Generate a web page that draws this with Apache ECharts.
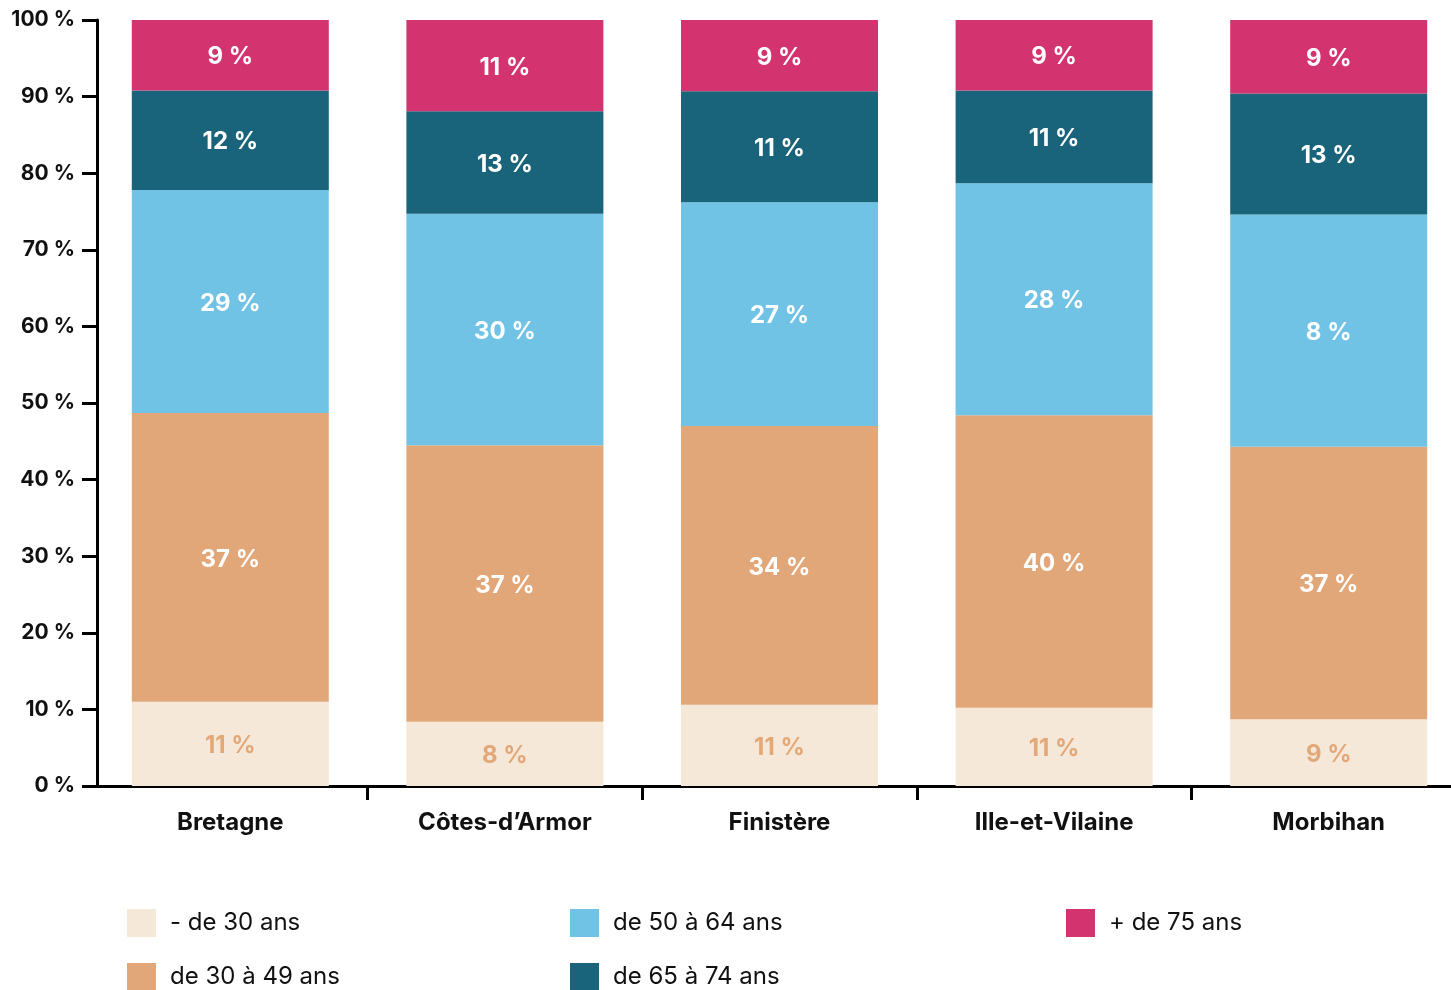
<!DOCTYPE html>
<html>
<head>
<meta charset="utf-8">
<script src="https://cdn.jsdelivr.net/npm/echarts@6/dist/echarts.min.js"></script>
<style>
  html, body { margin: 0; padding: 0; background: #ffffff; }
  #chart { width: 1451px; height: 990px; }
</style>
</head>
<body>
<div id="chart"></div>
<script>
// Répartition par tranche d'âge (%), par département
const departements = ['Bretagne', 'Côtes-d’Armor', 'Finistère', 'Ille-et-Vilaine', 'Morbihan'];
const tranches = ['- de 30 ans', 'de 30 à 49 ans', 'de 50 à 64 ans', 'de 65 à 74 ans', '+ de 75 ans'];

const moins30 = [11.0, 8.4, 10.6, 10.2, 8.7];
const de30a49 = [37.7, 36.1, 36.4, 38.2, 35.6];
const de50a64 = [29.1, 30.2, 29.2, 30.3, 30.3];
const de65a74 = [13.0, 13.4, 14.5, 12.1, 15.8];
const plus75  = [9.2, 11.9, 9.3, 9.2, 9.6];

// Pourcentages affichés dans les segments
const moins30Txt = ['11 %', '8 %', '11 %', '11 %', '9 %'];
const de30a49Txt = ['37 %', '37 %', '34 %', '40 %', '37 %'];
const de50a64Txt = ['29 %', '30 %', '27 %', '28 %', '8 %'];
const de65a74Txt = ['12 %', '13 %', '11 %', '11 %', '13 %'];
const plus75Txt  = ['9 %', '11 %', '9 %', '9 %', '9 %'];

const couleurs = ['#F5E8D9', '#E2A779', '#71C3E6', '#19637B', '#D3346F'];
const couleursTexte = ['#E3A878', '#ffffff', '#ffffff', '#ffffff', '#ffffff'];

const valeurs = [moins30, de30a49, de50a64, de65a74, plus75];
const textes = [moins30Txt, de30a49Txt, de50a64Txt, de65a74Txt, plus75Txt];

// Légende sur trois colonnes (colonne, ligne) pour chaque tranche
const legendeColonnes = [127, 570, 1066];
const legendeLignes = [909, 963];
const legendePlace = [[0, 0], [0, 1], [1, 0], [1, 1], [2, 0]];

const FONT = 'Inter, "Noto Sans", sans-serif';

const series = tranches.map((nom, k) => ({
  name: nom,
  type: 'bar',
  stack: 'total',
  barWidth: 197,
  data: valeurs[k],
  itemStyle: { color: couleurs[k] },
  label: {
    show: true,
    position: 'inside',
    offset: [0, 2],
    color: couleursTexte[k],
    fontFamily: FONT,
    fontWeight: 700,
    fontSize: 24,
    formatter: p => textes[k][p.dataIndex]
  },
  emphasis: { disabled: true }
}));

const legendes = tranches.map((nom, k) => ({
  left: legendeColonnes[legendePlace[k][0]],
  top: legendeLignes[legendePlace[k][1]],
  padding: 0,
  itemWidth: 29,
  itemHeight: 28,
  icon: 'rect',
  selectedMode: false,
  data: [nom],
  textStyle: {
    fontFamily: FONT,
    fontSize: 24,
    color: '#111111',
    padding: [0, 0, 0, 9]
  }
}));

const chart = echarts.init(document.getElementById('chart'), null, { renderer: 'canvas' });
chart.setOption({
  animation: false,
  backgroundColor: '#ffffff',
  grid: {
    left: 93, top: 20, width: 1373, height: 766,
    containLabel: false,
    outerBoundsMode: 'none'
  },
  legend: legendes,
  xAxis: {
    type: 'category',
    data: departements,
    axisLine: { lineStyle: { color: '#000000', width: 3 } },
    axisTick: {
      show: true,
      length: 14,
      lineStyle: { color: '#000000', width: 3 },
      interval: i => i > 0
    },
    axisLabel: {
      interval: 0,
      margin: 25,
      color: '#111111',
      fontFamily: FONT,
      fontWeight: 700,
      fontSize: 24
    }
  },
  yAxis: {
    type: 'value',
    min: 0,
    max: 100,
    interval: 10,
    offset: -4,
    splitLine: { show: false },
    axisLine: { show: true, lineStyle: { color: '#000000', width: 3 } },
    axisTick: { show: true, length: 15, lineStyle: { color: '#000000', width: 3 } },
    axisLabel: {
      margin: 22,
      color: '#111111',
      fontFamily: FONT,
      fontWeight: 700,
      fontSize: 21,
      formatter: '{value} %'
    }
  },
  series: series
});
</script>
</body>
</html>
